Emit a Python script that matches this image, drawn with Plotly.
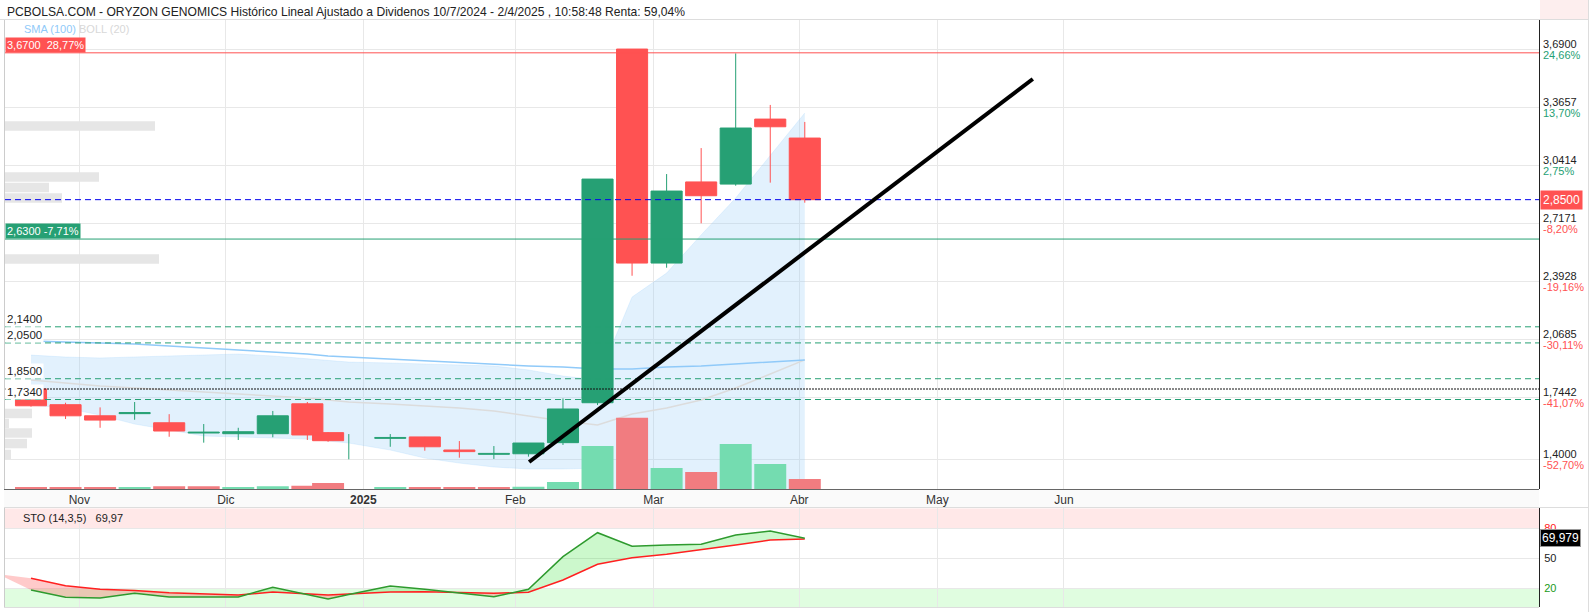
import plotly.graph_objects as go

# ---------------- data ----------------
# weekly candles, x = trading-session index of each weekly bar
sessions = [0, 5, 10, 15, 20, 25, 30, 35, 40, 43, 46, 52, 57, 62, 67, 72, 77, 82, 87, 92, 97, 102, 107, 112]
opens  = [1.793, 1.705, 1.643, 1.655, 1.604, 1.547, 1.543, 1.543, 1.710, 1.549, 1.470, 1.517, 1.525, 1.452, 1.428, 1.431, 1.493, 1.716, 3.691, 2.496, 2.949, 2.937, 3.300, 3.194]
highs  = [1.797, 1.716, 1.690, 1.720, 1.652, 1.597, 1.576, 1.670, 1.720, 1.551, 1.541, 1.541, 1.525, 1.502, 1.474, 1.491, 1.740, 2.965, 3.691, 2.993, 3.138, 3.667, 3.379, 3.284]
lows   = [1.694, 1.625, 1.576, 1.621, 1.526, 1.493, 1.508, 1.523, 1.508, 1.498, 1.400, 1.470, 1.448, 1.409, 1.402, 1.415, 1.480, 1.703, 2.425, 2.470, 2.718, 2.928, 2.945, 2.833]
closes = [1.699, 1.643, 1.619, 1.661, 1.558, 1.552, 1.554, 1.643, 1.536, 1.504, 1.470, 1.522, 1.470, 1.443, 1.433, 1.491, 1.681, 2.965, 2.496, 2.898, 2.872, 3.250, 3.257, 2.850]
volume_k = [26, 26, 26, 26, 54, 54, 26, 54, 66, 120, 0, 26, 26, 26, 26, 46, 140, 860, 1426, 420, 340, 900, 500, 200]

bb_upper = [1.982, 1.971, 1.966, 1.971, 1.977, 1.982, 1.988, 1.977, 1.960, 1.949, 1.943, 1.938, 1.932, 1.927, 1.921, 1.899, 1.865, 1.843, 2.306, 2.440, 2.653, 2.859, 3.099, 3.334]
bb_mid   = [1.843, 1.826, 1.809, 1.798, 1.787, 1.776, 1.765, 1.754, 1.742, 1.731, 1.720, 1.709, 1.698, 1.686, 1.670, 1.642, 1.614, 1.592, 1.653, 1.686, 1.731, 1.798, 1.876, 1.955]
bb_lower = [1.703, 1.686, 1.647, 1.597, 1.564, 1.530, 1.525, 1.519, 1.513, 1.502, 1.491, 1.452, 1.407, 1.379, 1.357, 1.346, 1.346, 1.351, 1.005, 0.921, 0.810, 0.726, 0.614, 0.558]
sma100   = [2.061, 2.055, 2.049, 2.044, 2.033, 2.022, 2.010, 1.999, 1.988, 1.977, 1.971, 1.960, 1.949, 1.938, 1.927, 1.921, 1.915, 1.904, 1.904, 1.915, 1.921, 1.932, 1.943, 1.955]

# stochastic (14,3,5); first value belongs to the bar before the visible window
sto_sessions = [-5] + sessions
sto_k = [35.0, 18.3, 11.0, 10.3, 15.0, 11.3, 11.3, 11.3, 21.0, 13.6, 9.3, 13.7, 22.3, 19.0, 15.0, 11.6, 19.0, 51.6, 75.6, 62.0, 63.3, 64.0, 73.3, 77.3, 69.979]
sto_d = [34.5, 30.0, 22.6, 19.0, 17.8, 15.6, 14.3, 13.3, 16.3, 14.8, 13.3, 14.3, 16.3, 16.6, 15.8, 15.0, 16.0, 28.3, 44.0, 50.6, 54.0, 58.3, 63.3, 68.3, 69.3]

# volume profile (price level, volume)
vp_prices = [3.261, 2.977, 2.918, 2.859, 2.519, 1.656, 1.600, 1.547, 1.488, 1.427]
vp_volume = [1500, 940, 440, 570, 1540, 270, 40, 270, 220, 60]

month_labels = ["Nov", "Dic", "<b>2025</b>", "Feb", "Mar", "Abr", "May", "Jun"]
month_sessions = [7.0, 28.2, 48.1, 70.1, 90.1, 111.2, 131.2, 149.5]

price_ticks = [3.69, 3.3657, 3.0414, 2.7171, 2.3928, 2.0685, 1.7442, 1.40]
price_pct = ["24,66%", "13,70%", "2,75%", "-8,20%", "-19,16%", "-30,11%", "-41,07%", "-52,70%"]

last_price = 2.85
high_level, high_pct = 3.67, "28,77%"
low_level, low_pct = 2.63, "-7,71%"
support_levels = [2.14, 2.05, 1.85, 1.734]
start_price = 1.7926
trend_sessions = [72.1, 145.0]
trend_prices = [1.385, 3.524]

title = ("PCBOLSA.COM - ORYZON GENOMICS Histórico Lineal Ajustado a Dividenos "
         "10/7/2024 - 2/4/2025 , 10:58:48 Renta: 59,04%")

# ---------------- layout helpers ----------------
W, H = 1593, 612
FONT = "Liberation Sans, Arial, sans-serif"
GREEN = "#26a074"
RED = "#ff5252"


def px_x(p):
    return p / W


def px_y(p):
    return 1 - p / H


X_DOM = [px_x(5), px_x(1539)]
Y_MAIN = [px_y(489), px_y(20)]
Y_STO = [px_y(607), px_y(508.3)]
X_RANGE = [-3.763, 218.27]
Y_RANGE = [1.2342, 3.8533]
BODY_W = 4.5

fig = go.Figure()

# volume profile (left, horizontal)
fig.add_trace(go.Bar(x=vp_volume, y=vp_prices, orientation="h", width=0.053,
                     marker=dict(color="#e6e6e6", line=dict(width=0)),
                     xaxis="x3", yaxis="y", hoverinfo="skip", showlegend=False))

# bollinger band
fig.add_trace(go.Scatter(x=sessions, y=bb_lower, mode="lines",
                         line=dict(color="rgba(144,202,249,0.35)", width=0.6),
                         hoverinfo="skip", showlegend=False))
fig.add_trace(go.Scatter(x=sessions, y=bb_upper, mode="lines", fill="tonexty",
                         fillcolor="rgba(144,202,249,0.26)",
                         line=dict(color="rgba(144,202,249,0.35)", width=0.6),
                         hoverinfo="skip", showlegend=False))
fig.add_trace(go.Scatter(x=sessions, y=bb_mid, mode="lines",
                         line=dict(color="#dcdcdc", width=1.5),
                         hoverinfo="skip", showlegend=False))
fig.add_trace(go.Scatter(x=sessions, y=sma100, mode="lines",
                         line=dict(color="#90caf9", width=1.5),
                         hoverinfo="skip", showlegend=False))

# candles: wicks then bodies (bodies as filled polygons so they sit above the band)
up = [c >= o for o, c in zip(opens, closes)]
for flag, col in [(True, GREEN), (False, RED)]:
    wx, wy = [], []
    for s, h, l, u in zip(sessions, highs, lows, up):
        if u == flag:
            wx += [s, s, None]
            wy += [l, h, None]
    fig.add_trace(go.Scatter(x=wx, y=wy, mode="lines", line=dict(color=col, width=1),
                             hoverinfo="skip", showlegend=False))

for flag, col in [(True, GREEN), (False, RED)]:
    px_, py_ = [], []
    for s, o, c, u in zip(sessions, opens, closes, up):
        if u == flag and abs(c - o) > 1e-9:
            lo, hi = min(o, c), max(o, c)
            x0, x1 = s - BODY_W / 2, s + BODY_W / 2
            px_ += [x0, x1, x1, x0, x0, None]
            py_ += [lo, lo, hi, hi, lo, None]
    fig.add_trace(go.Scatter(x=px_, y=py_, mode="lines", fill="toself", fillcolor=col,
                             line=dict(color=col, width=1),
                             hoverinfo="skip", showlegend=False))

# volume bars (colored by close vs previous close)
vcol = []
for i, c in enumerate(closes):
    rising = up[i] if i == 0 else c >= closes[i - 1]
    vcol.append("#74dcb0" if rising else "#f17c80")
fig.add_trace(go.Bar(x=sessions, y=volume_k, width=4.63,
                     marker=dict(color=vcol, line=dict(width=0)),
                     xaxis="x", yaxis="y3", hoverinfo="skip", showlegend=False))


# stochastic fills
def fill_segments(x, a, b):
    pos, neg = ([], []), ([], [])
    for i in range(len(x) - 1):
        x0, x1 = x[i], x[i + 1]
        a0, a1, b0, b1 = a[i], a[i + 1], b[i], b[i + 1]
        d0, d1 = a0 - b0, a1 - b1
        if d0 * d1 >= 0:
            tgt = pos if (d0 + d1) >= 0 else neg
            tgt[0].extend([x0, x1, x1, x0, x0, None])
            tgt[1].extend([a0, a1, b1, b0, a0, None])
        else:
            t = d0 / (d0 - d1)
            xc = x0 + t * (x1 - x0)
            yc = a0 + t * (a1 - a0)
            first = pos if d0 > 0 else neg
            second = neg if d0 > 0 else pos
            first[0].extend([x0, xc, x0, x0, None])
            first[1].extend([a0, yc, b0, a0, None])
            second[0].extend([xc, x1, x1, xc, None])
            second[1].extend([yc, a1, b1, yc, None])
    return pos, neg


pos, neg = fill_segments(sto_sessions, sto_k, sto_d)
fig.add_trace(go.Scatter(x=pos[0], y=pos[1], mode="lines", fill="toself",
                         fillcolor="rgba(0,220,0,0.2)", line=dict(width=0),
                         xaxis="x2", yaxis="y2", hoverinfo="skip", showlegend=False))
fig.add_trace(go.Scatter(x=neg[0], y=neg[1], mode="lines", fill="toself",
                         fillcolor="rgba(255,80,80,0.3)", line=dict(width=0),
                         xaxis="x2", yaxis="y2", hoverinfo="skip", showlegend=False))
fig.add_trace(go.Scatter(x=sto_sessions[1:], y=sto_d[1:], mode="lines",
                         line=dict(color="#ff2020", width=1.5),
                         xaxis="x2", yaxis="y2", hoverinfo="skip", showlegend=False))
fig.add_trace(go.Scatter(x=sto_sessions[1:], y=sto_k[1:], mode="lines",
                         line=dict(color="#2e9a2e", width=1.5),
                         xaxis="x2", yaxis="y2", hoverinfo="skip", showlegend=False))


# ---------------- axes ----------------
def fmt(v, d=4):
    return f"{v:.{d}f}".replace(".", ",")


grid = "#e8e8e8"
fig.update_layout(
    width=W, height=H, margin=dict(l=0, r=0, t=0, b=0),
    paper_bgcolor="white", plot_bgcolor="white",
    barmode="overlay", showlegend=False,
    font=dict(family=FONT, size=11, color="#222"),
    xaxis=dict(domain=X_DOM, range=X_RANGE, anchor="y",
               tickvals=month_sessions, ticktext=month_labels,
               tickfont=dict(size=12, color="#333", family="Liberation Sans Narrow, Liberation Sans, Arial"),
               showgrid=True, gridcolor=grid, gridwidth=1, zeroline=False,
               showline=False, ticks="", ticklabelstandoff=2),
    yaxis=dict(domain=Y_MAIN, range=Y_RANGE, anchor="x", side="right",
               tickvals=price_ticks, showticklabels=False,
               showgrid=True, gridcolor=grid, zeroline=False,
               showline=True, linecolor="#222", linewidth=1, ticks=""),
    xaxis2=dict(domain=X_DOM, range=X_RANGE, anchor="y2", matches="x",
                tickvals=month_sessions, showticklabels=False,
                showgrid=True, gridcolor=grid, zeroline=False, showline=False, ticks=""),
    yaxis2=dict(domain=Y_STO, range=[1.3, 100], anchor="x2", side="right",
                tickvals=[20, 50, 80],
                ticktext=["<span style='color:#1a9a1a'>20</span>", "50",
                          "<span style='color:#ff2020'>80</span>"],
                tickfont=dict(size=11, color="#222"),
                showgrid=True, gridcolor=grid, zeroline=False,
                showline=True, linecolor="#222", linewidth=1, ticks="",
                ticklabelstandoff=2),
    yaxis3=dict(domain=Y_MAIN, range=[0, 9380], overlaying="y", anchor="x",
                visible=False, showgrid=False),
    xaxis3=dict(domain=X_DOM, range=[0, 15340], overlaying="x", anchor="y",
                visible=False, showgrid=False),
)

# ---------------- shapes ----------------
shapes = []
shapes.append(dict(type="line", xref="paper", yref="paper", x0=0, x1=px_x(1588),
                   y0=px_y(19.5), y1=px_y(19.5), line=dict(color="#dddddd", width=1)))
shapes.append(dict(type="line", xref="paper", yref="paper", x0=px_x(1588.5), x1=px_x(1588.5),
                   y0=0, y1=1, line=dict(color="#dddddd", width=1)))
shapes.append(dict(type="rect", xref="paper", yref="paper", x0=px_x(1540), x1=px_x(1588),
                   y0=px_y(19), y1=1, fillcolor="#fdeeee", line=dict(width=0), layer="below"))
shapes.append(dict(type="line", xref="paper", yref="paper", x0=px_x(4.5), x1=px_x(4.5),
                   y0=px_y(489), y1=px_y(20), line=dict(color="#cccccc", width=1)))
shapes.append(dict(type="line", xref="paper", yref="paper", x0=px_x(4.5), x1=px_x(4.5),
                   y0=px_y(607), y1=px_y(508), line=dict(color="#cccccc", width=1)))
shapes.append(dict(type="rect", xref="paper", yref="paper", x0=px_x(4), x1=px_x(1539),
                   y0=px_y(507), y1=px_y(489.5), fillcolor="#fafafa",
                   line=dict(width=0), layer="below"))
shapes.append(dict(type="line", xref="paper", yref="paper", x0=px_x(4), x1=px_x(1539),
                   y0=px_y(489.5), y1=px_y(489.5), line=dict(color="#666666", width=1)))
shapes.append(dict(type="line", xref="paper", yref="paper", x0=px_x(4), x1=px_x(1588),
                   y0=px_y(507.5), y1=px_y(507.5), line=dict(color="#dddddd", width=1)))
shapes.append(dict(type="line", xref="paper", yref="paper", x0=px_x(4), x1=px_x(1539),
                   y0=px_y(607.5), y1=px_y(607.5), line=dict(color="#dddddd", width=1)))
shapes.append(dict(type="rect", xref="x2 domain", yref="y2", x0=0, x1=1, y0=80, y1=100,
                   fillcolor="#ffe8e8", line=dict(width=0), layer="below"))
shapes.append(dict(type="rect", xref="x2 domain", yref="y2", x0=0, x1=1, y0=1.3, y1=20,
                   fillcolor="#e0fde0", line=dict(width=0), layer="below"))
shapes.append(dict(type="line", xref="x domain", yref="y", x0=0, x1=1, y0=high_level, y1=high_level,
                   line=dict(color=RED, width=1), layer="above"))
shapes.append(dict(type="line", xref="x domain", yref="y", x0=0, x1=1, y0=low_level, y1=low_level,
                   line=dict(color=GREEN, width=1), layer="above"))
shapes.append(dict(type="line", xref="x domain", yref="y", x0=0, x1=1, y0=last_price, y1=last_price,
                   line=dict(color="#0000ee", width=1, dash="6px,4px"), layer="above"))
for lv in support_levels:
    shapes.append(dict(type="line", xref="x domain", yref="y", x0=0, x1=1, y0=lv, y1=lv,
                       line=dict(color=GREEN, width=1, dash="6px,4px"), layer="above"))
shapes.append(dict(type="line", xref="x domain", yref="y", x0=0, x1=1, y0=start_price, y1=start_price,
                   line=dict(color="#111", width=1, dash="2px,1px"), layer="above"))
shapes.append(dict(type="line", xref="x", yref="y", x0=trend_sessions[0], x1=trend_sessions[1],
                   y0=trend_prices[0], y1=trend_prices[1],
                   line=dict(color="black", width=4), layer="above"))
fig.update_layout(shapes=shapes)

# ---------------- annotations ----------------
nb = "\u00a0"
ann = []
ann.append(dict(text=title, xref="paper", yref="paper", x=px_x(5), y=px_y(11.5),
                xanchor="left", yanchor="middle", showarrow=False,
                font=dict(size=12.1, color="#222", family=FONT)))
ann.append(dict(text="<span style='color:#90caf9'>SMA (100)</span> <span style='color:#d8d8d8'>BOLL (20)</span>",
                xref="paper", yref="paper", x=px_x(22), y=px_y(29),
                xanchor="left", yanchor="middle", showarrow=False, font=dict(size=11, family=FONT)))
# right price scale labels (value above gridline, % change below)
for v, p in zip(price_ticks, price_pct):
    col = RED if p.startswith("-") else GREEN
    ann.append(dict(text=fmt(v), xref="paper", yref="y", x=px_x(1541), y=v, yshift=5.5,
                    xanchor="left", yanchor="middle", showarrow=False,
                    font=dict(size=11, color="#222", family=FONT)))
    ann.append(dict(text=p, xref="paper", yref="y", x=px_x(1541), y=v, yshift=-5.5,
                    xanchor="left", yanchor="middle", showarrow=False,
                    font=dict(size=11, color=col, family=FONT)))
ann.append(dict(text=f"{fmt(high_level)}{nb}{nb}{high_pct}", xref="paper", yref="y",
                x=px_x(5), y=high_level, xanchor="left", yanchor="bottom", showarrow=False,
                bgcolor=RED, borderpad=1, font=dict(size=11, color="white", family=FONT)))
ann.append(dict(text=f"{fmt(low_level)}{nb}{low_pct}", xref="paper", yref="y",
                x=px_x(5), y=low_level, xanchor="left", yanchor="bottom", showarrow=False,
                bgcolor=GREEN, borderpad=1, font=dict(size=11, color="white", family=FONT)))
for lv in support_levels:
    ann.append(dict(text=fmt(lv), xref="paper", yref="y", x=px_x(5), y=lv,
                    xanchor="left", yanchor="bottom", showarrow=False, bgcolor="white",
                    borderpad=1, font=dict(size=11.5, color="#222", family=FONT)))
ann.append(dict(text=fmt(last_price), xref="paper", yref="y", x=px_x(1540), y=last_price,
                xanchor="left", yanchor="middle", showarrow=False, bgcolor=RED,
                borderpad=2, font=dict(size=12, color="white", family=FONT)))
sto_last = sto_k[-1]
ann.append(dict(text=fmt(sto_last, 3), xref="paper", yref="y2", x=px_x(1540), y=sto_last,
                xanchor="left", yanchor="middle", showarrow=False, bgcolor="black",
                bordercolor="#999", borderwidth=1, borderpad=1,
                font=dict(size=12, color="white", family=FONT)))
sto_short = fmt(int(sto_last * 100) / 100, 2)
ann.append(dict(text=f"STO (14,3,5){nb}{nb}{nb}{sto_short}", xref="paper", yref="paper",
                x=px_x(21), y=px_y(517.5), xanchor="left", yanchor="middle", showarrow=False,
                font=dict(size=11, color="#222", family=FONT)))
fig.update_layout(annotations=ann)

fig.write_html("out.html")
